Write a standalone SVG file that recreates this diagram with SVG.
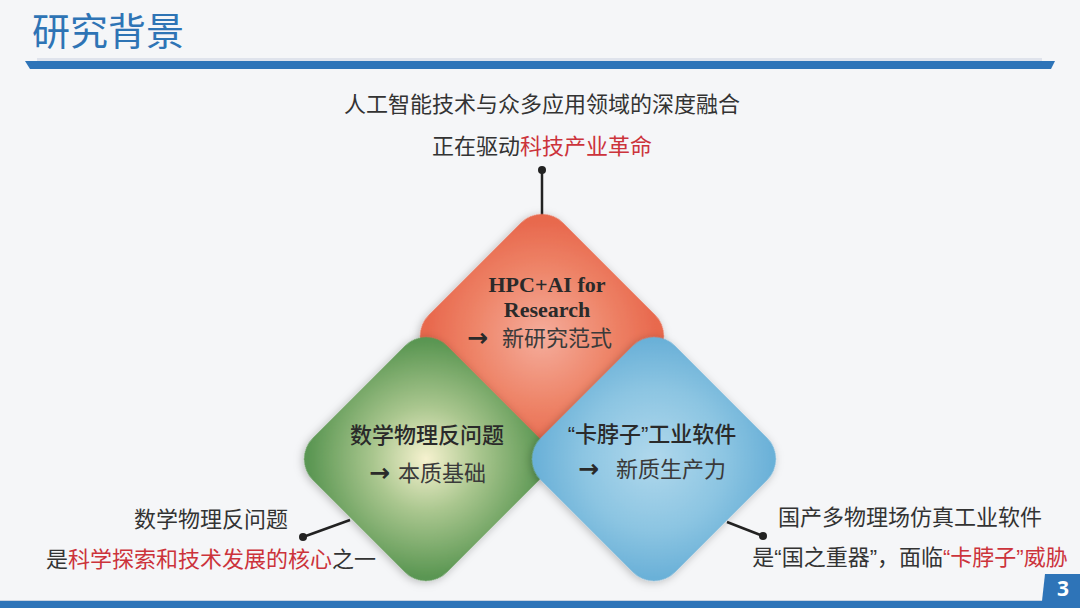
<svg xmlns="http://www.w3.org/2000/svg" width="1080" height="608" viewBox="0 0 1080 608">
<defs>
<radialGradient id="gRed" cx="50%" cy="50%" r="60%">
<stop offset="0" stop-color="#f5ad9c"/>
<stop offset="0.6" stop-color="#ee8468"/>
<stop offset="1" stop-color="#e8694e"/>
</radialGradient>
<radialGradient id="gGreen" cx="50%" cy="50%" r="62%">
<stop offset="0" stop-color="#f6f2cf"/>
<stop offset="0.45" stop-color="#a9c68e"/>
<stop offset="1" stop-color="#5a9652"/>
</radialGradient>
<radialGradient id="gBlue" cx="50%" cy="50%" r="62%">
<stop offset="0" stop-color="#b0d8ec"/>
<stop offset="0.6" stop-color="#8cc5e2"/>
<stop offset="1" stop-color="#6bb1d8"/>
</radialGradient>
<filter id="sh" x="-20%" y="-20%" width="140%" height="140%">
<feDropShadow dx="0" dy="2" stdDeviation="4" flood-color="#000" flood-opacity="0.25"/>
</filter>
<style>
.t{font-family:"Noto Sans CJK SC","Noto Sans",sans-serif;font-size:22px;fill:#333;text-anchor:middle}
.r{fill:#cc333b}
.q{font-family:"Liberation Sans",sans-serif}
.n{font-family:"Noto Sans CJK SC","Noto Sans",sans-serif;font-size:22px;fill:#3a3a3a}
.m{text-anchor:middle;font-weight:500;fill:#2a2a2a}
.a{font-family:"DejaVu Sans",sans-serif;font-size:25px;font-weight:bold;fill:#2a2a2a}
.b{font-family:"Liberation Serif",serif;font-weight:bold;font-size:22px;fill:#2a2a2a;text-anchor:middle}
.ln{stroke:#222;stroke-width:2.5;fill:none}
</style>
</defs>
<rect width="1080" height="608" fill="#f5f6f8"/>
<g id="header">
<text x="32" y="45" font-family="'Noto Sans CJK SC',sans-serif" font-size="38" font-weight="400" fill="#2e74b5">研究背景</text>
<rect x="37" y="58" width="1005" height="3.5" fill="#dfe3ec"/>
<polygon points="25,61 1055,61 1051,69 30,69" fill="#2e74b8"/>
</g>
<g id="footer">
<rect x="0" y="600" width="1080" height="1.5" fill="#c9d2df"/>
<rect x="0" y="601" width="1080" height="7" fill="#2e74b8"/>
<polygon points="1045,574 1080,574 1080,601 1042,601" fill="#2e74b8"/>
<text x="1063" y="596" font-family="'Open Sans','Liberation Sans',sans-serif" font-size="21" font-weight="bold" fill="#fff" text-anchor="middle">3</text>
</g>
<g id="connectors">
<line class="ln" x1="542" y1="170" x2="542" y2="216"/>
<circle cx="542" cy="170" r="4" fill="#222"/>
<line class="ln" x1="303" y1="537" x2="350" y2="520"/>
<circle cx="303" cy="537" r="4" fill="#222"/>
<line class="ln" x1="763" y1="536" x2="727" y2="522"/>
<circle cx="763" cy="536" r="4" fill="#222"/>
</g>
<g id="node-red">
<rect x="-95" y="-95" width="190" height="190" rx="30" fill="url(#gRed)" filter="url(#sh)" transform="translate(542,336) rotate(45)"/>
<text class="b" x="547" y="292">HPC+AI for</text>
<text class="b" x="547" y="317">Research</text>
<text class="a" x="467" y="346">→</text>
<text class="n" x="502" y="346">新研究范式</text>
</g>
<g id="node-green">
<rect x="-95" y="-95" width="190" height="190" rx="30" fill="url(#gGreen)" filter="url(#sh)" transform="translate(426,459) rotate(45)"/>
<text class="n m" x="427" y="443">数学物理反问题</text>
<text class="a" x="369" y="481">→</text>
<text class="n" x="398" y="481">本质基础</text>
</g>
<g id="node-blue">
<rect x="-95" y="-95" width="190" height="190" rx="30" fill="url(#gBlue)" filter="url(#sh)" transform="translate(654,459) rotate(45)"/>
<text class="n m" x="652" y="442"><tspan class="q">“</tspan>卡脖子<tspan class="q">”</tspan>工业软件</text>
<text class="a" x="578" y="477">→</text>
<text class="n" x="616" y="477">新质生产力</text>
</g>
<g id="top-text">
<text class="t" x="542" y="112">人工智能技术与众多应用领域的深度融合</text>
<text class="t" x="542" y="154">正在驱动<tspan class="r">科技产业革命</tspan></text>
</g>
<g id="left-text">
<text class="t" x="211" y="527">数学物理反问题</text>
<text class="t" x="211" y="567">是<tspan class="r">科学探索和技术发展的核心</tspan>之一</text>
</g>
<g id="right-text">
<text class="t" x="910" y="525">国产多物理场仿真工业软件</text>
<text class="t" x="910" y="565">是<tspan class="q">“</tspan>国之重器<tspan class="q">”</tspan>，面临<tspan class="r"><tspan class="q">“</tspan>卡脖子<tspan class="q">”</tspan>威胁</tspan></text>
</g>
</svg>
